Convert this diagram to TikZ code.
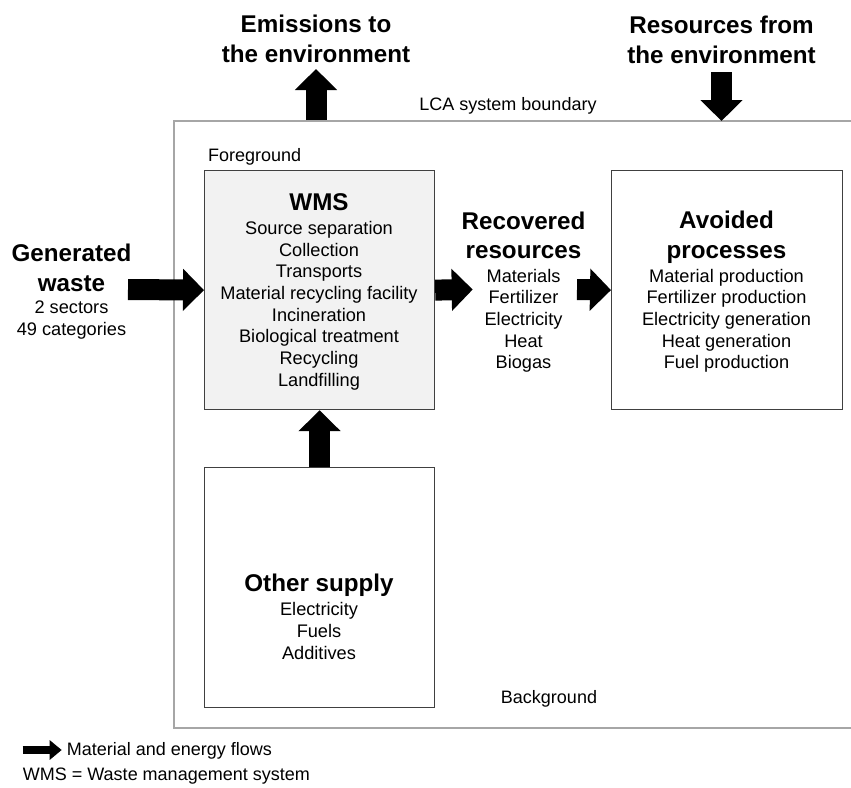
\documentclass[tikz,border=0pt]{standalone}
\usepackage{fontspec}
\setmainfont{Liberation Sans}
\usetikzlibrary{arrows.meta}
\definecolor{boxline}{HTML}{404040}
\definecolor{bndline}{HTML}{A6A6A6}
\definecolor{wmsfill}{HTML}{F2F2F2}
\tikzset{
  procbox/.style={draw=boxline, line width=1.2pt, minimum width=230pt, minimum height=239pt, inner sep=0pt, anchor=north west},
  flow/.style={line width=21pt, -{Triangle[length=21pt,width=41pt]}},
  smallflow/.style={line width=8pt, -{Triangle[length=12pt,width=19pt]}},
  head/.style={font=\fontsize{24.2}{29}\selectfont\bfseries, inner sep=0pt, anchor=base},
  body/.style={font=\fontsize{18.2}{22}\selectfont, inner sep=0pt, anchor=base},
  lbl/.style={font=\fontsize{18}{22}\selectfont, inner sep=0pt, anchor=base},
}
\begin{document}
\begin{tikzpicture}[x=1pt, y=-1pt]
\path[use as bounding box] (0,0) rectangle (851,787);
% LCA system boundary
\node[draw=bndline, line width=1.5pt, minimum width=678pt, minimum height=607pt, anchor=north west, inner sep=0pt] (bnd) at (173,120) {};
\node[lbl] (bndlabel) at (508,110) {LCA system boundary};
\node[lbl, anchor=base west] (fg) at (208,161.5) {Foreground};
\node[lbl] (bg) at (549,703) {Background};
% boxes
\node[procbox, fill=wmsfill] (wms) at (204,170) {};
\node[procbox, minimum height=240pt] (other) at (204,467) {};
\node[procbox, minimum width=231pt] (avoid) at (611,170) {};
% WMS text
\node[head] (wmsh) at (319,210) {WMS};
\foreach \t [count=\i from 0] in {Source separation, Collection, Transports, Material recycling facility, Incineration, Biological treatment, Recycling, Landfilling}
  \node[body] (wms-\i) at (319,{234.3+21.7*\i}) {\t};
% Recovered resources
\node[head] (rech1) at (523.5,229) {Recovered};
\node[head] (rech2) at (523.5,258.3) {resources};
\foreach \t [count=\i from 0] in {Materials, Fertilizer, Electricity, Heat, Biogas}
  \node[body] (rec-\i) at (523.5,{282.3+21.6*\i}) {\t};
% Avoided processes
\node[head] (avh1) at (726.5,228.5) {Avoided};
\node[head] (avh2) at (726.5,258.3) {processes};
\foreach \t [count=\i from 0] in {Material production, Fertilizer production, Electricity generation, Heat generation, Fuel production}
  \node[body] (av-\i) at (726.5,{282.3+21.6*\i}) {\t};
% Generated waste
\node[head] (gwh1) at (71.5,261.7) {Generated};
\node[head] (gwh2) at (71.5,291.7) {waste};
\node[body] (gw-1) at (71.5,313.5) {2 sectors};
\node[body] (gw-2) at (71.5,335.8) {49 categories};
% Other supply
\node[head] (osh) at (319,591) {Other supply};
\foreach \t [count=\i from 0] in {Electricity, Fuels, Additives}
  \node[body] (os-\i) at (319,{615.5+22*\i}) {\t};
% Emissions / Resources headings
\node[head] (emh1) at (316,32) {Emissions to};
\node[head] (emh2) at (316,62) {the environment};
\node[head] (rsh1) at (721.5,33.5) {Resources from};
\node[head] (rsh2) at (721.5,63.5) {the environment};
% flow arrows
\coordinate (gwstart) at (128,289.5);
\coordinate (recstart) at (577,289.5);
\coordinate (emstart) at (316,120);
\coordinate (emend) at (316,69);
\coordinate (rsstart) at (721.5,72);
\coordinate (rsend) at (721.5,121);
\draw[flow] (gwstart) -- (wms.west);
\draw[flow] (wms.east) -- (472.7,289.5) coordinate (recend);
\draw[flow] (recstart) -- (avoid.west);
\draw[flow] (other.north) -- (wms.south);
\draw[flow] (emstart) -- (emend);
\draw[flow] (rsstart) -- (rsend);
% legend
\coordinate (lgstart) at (22.7,750);
\coordinate (lgend) at (61.7,750);
\draw[smallflow] (lgstart) -- (lgend);
\node[lbl, anchor=base west] (lg1) at (66.7,755) {Material and energy flows};
\node[lbl, anchor=base west] (lg2) at (22.7,780) {WMS = Waste management system};
\end{tikzpicture}
\end{document}
